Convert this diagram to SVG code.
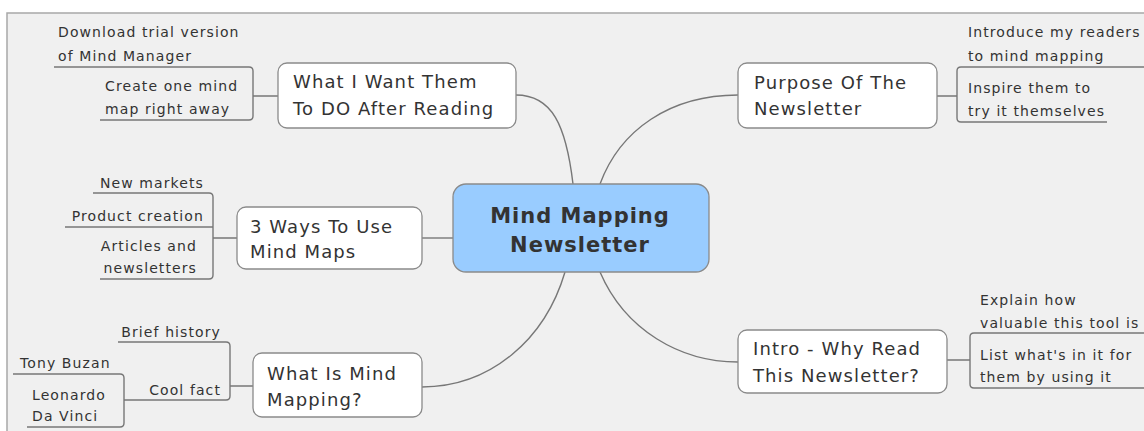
<svg xmlns="http://www.w3.org/2000/svg" width="1144" height="431" viewBox="0 0 1144 431">
<style>
.node{fill:#ffffff;stroke:#8a8a8a;stroke-width:1.3}
.center{fill:#99ccff;stroke:#8a8a8a;stroke-width:1.3}
.link{fill:none;stroke:#777777;stroke-width:1.4}
.t{font-family:"DejaVu Sans",Verdana,sans-serif;font-size:18px;letter-spacing:1.1px;fill:#333333}
.s{font-family:"DejaVu Sans",Verdana,sans-serif;font-size:14px;letter-spacing:1.1px;fill:#333333}
.c{font-family:"DejaVu Sans",Verdana,sans-serif;font-size:21px;letter-spacing:1px;font-weight:bold;fill:#333333;text-anchor:middle}
</style>
<rect x="0" y="0" width="1144" height="431" fill="#ffffff"/>
<rect x="7" y="13" width="1140" height="425" fill="#f0f0f0" stroke="#a8a8a8" stroke-width="1.5"/>
<g id="connectors">
<path class="link" d="M 573 184 C 566 125 552 95 516 95"/>
<path class="link" d="M 600 184 C 620 130 670 95 738 95"/>
<path class="link" d="M 565 272 C 545 340 490 387 422 387"/>
<path class="link" d="M 600 272 C 625 330 680 362 738 362"/>
<path class="link" d="M 422 238 H 453"/>
<path class="link" d="M 54 67 H 249 Q 253 67 253 71 V 116 Q 253 120 249 120 H 100 M 253 96 H 278"/>
<path class="link" d="M 1144 67 H 961 Q 957 67 957 71 V 118 Q 957 122 961 122 H 1107 M 937 96 H 957"/>
<path class="link" d="M 93 193 H 209 Q 213 193 213 197 V 275 Q 213 279 209 279 H 100 M 65 227 H 213 M 213 238 H 237"/>
<path class="link" d="M 118 342 H 226 Q 230 342 230 346 V 396 Q 230 400 226 400 H 124 M 230 386 H 253"/>
<path class="link" d="M 13 374 H 120 Q 124 374 124 378 V 423 Q 124 427 120 427 H 27"/>
<path class="link" d="M 1144 333 H 974 Q 970 333 970 337 V 384 Q 970 388 974 388 H 1144 M 947 360 H 970"/>
</g>
<g id="central">
<rect class="center" x="453" y="184" width="256" height="88" rx="13"/>
<text class="c" x="580" y="223">Mind Mapping</text>
<text class="c" x="580" y="252">Newsletter</text>
</g>
<g id="want">
<rect class="node" x="278" y="63" width="238" height="65" rx="9"/>
<text class="t" x="293" y="88">What I Want Them</text>
<text class="t" x="293" y="115">To DO After Reading</text>
</g>
<g id="want-download">
<text class="s" x="58" y="37">Download trial version</text>
<text class="s" x="58" y="61">of Mind Manager</text>
</g>
<g id="want-create">
<text class="s" x="105" y="91">Create one mind</text>
<text class="s" x="105" y="114">map right away</text>
</g>
<g id="purpose">
<rect class="node" x="738" y="63" width="199" height="65" rx="9"/>
<text class="t" x="754" y="89">Purpose Of The</text>
<text class="t" x="754" y="115">Newsletter</text>
</g>
<g id="purpose-introduce">
<text class="s" x="968" y="37">Introduce my readers</text>
<text class="s" x="968" y="61">to mind mapping</text>
</g>
<g id="purpose-inspire">
<text class="s" x="968" y="93">Inspire them to</text>
<text class="s" x="968" y="116">try it themselves</text>
</g>
<g id="ways">
<rect class="node" x="237" y="207" width="185" height="62" rx="9"/>
<text class="t" x="250" y="233">3 Ways To Use</text>
<text class="t" x="250" y="258">Mind Maps</text>
</g>
<g id="ways-markets"><text class="s" x="204" y="188" text-anchor="end">New markets</text></g>
<g id="ways-product"><text class="s" x="204" y="221" text-anchor="end">Product creation</text></g>
<g id="ways-articles">
<text class="s" x="197" y="251" text-anchor="end">Articles and</text>
<text class="s" x="197" y="273" text-anchor="end">newsletters</text>
</g>
<g id="whatis">
<rect class="node" x="253" y="353" width="169" height="64" rx="9"/>
<text class="t" x="267" y="380">What Is Mind</text>
<text class="t" x="267" y="406">Mapping?</text>
</g>
<g id="whatis-history"><text class="s" x="221" y="337" text-anchor="end">Brief history</text></g>
<g id="whatis-cool"><text class="s" x="221" y="395" text-anchor="end">Cool fact</text></g>
<g id="cool-tony"><text class="s" x="20" y="368">Tony Buzan</text></g>
<g id="cool-leonardo">
<text class="s" x="32" y="400">Leonardo</text>
<text class="s" x="32" y="421">Da Vinci</text>
</g>
<g id="intro">
<rect class="node" x="738" y="330" width="209" height="63" rx="9"/>
<text class="t" x="753" y="355">Intro - Why Read</text>
<text class="t" x="753" y="382">This Newsletter?</text>
</g>
<g id="intro-explain">
<text class="s" x="980" y="305">Explain how</text>
<text class="s" x="980" y="328">valuable this tool is</text>
</g>
<g id="intro-list">
<text class="s" x="980" y="360">List what's in it for</text>
<text class="s" x="980" y="382">them by using it</text>
</g>
</svg>
